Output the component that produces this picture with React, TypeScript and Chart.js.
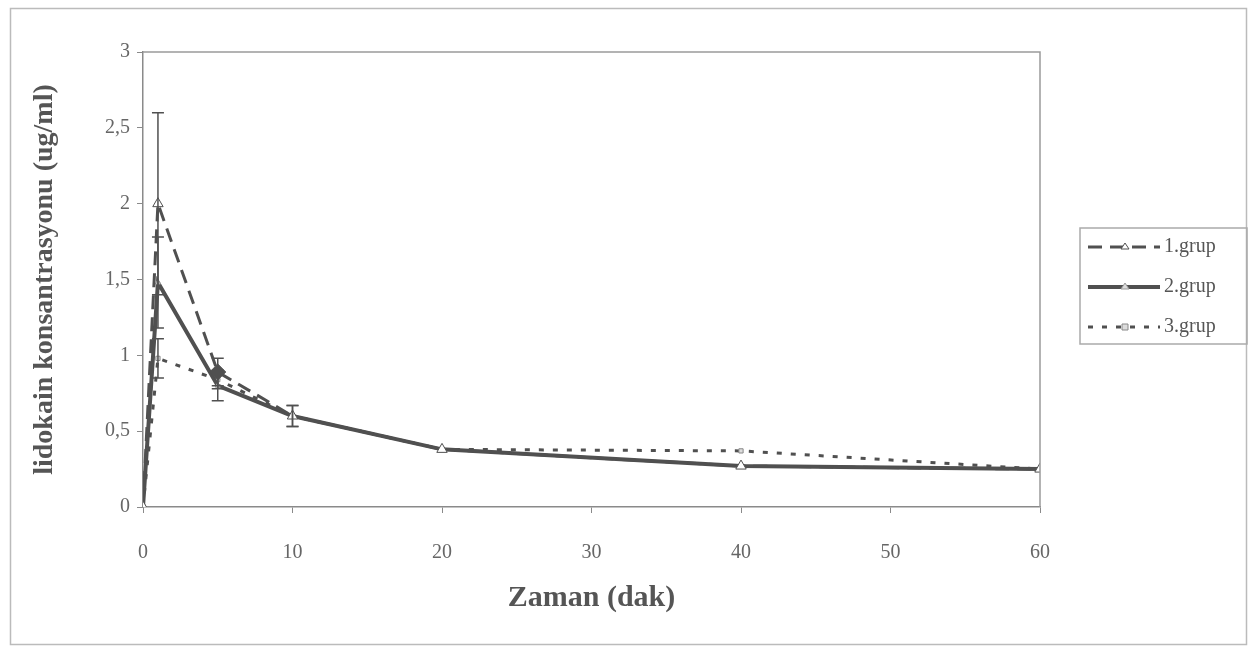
import React, { useEffect, useRef } from "react";
import { Chart, registerables } from "chart.js";

Chart.register(...registerables);

const times = [0, 1, 5, 10, 20, 40, 60];
const seriesNames = ["1.grup", "2.grup", "3.grup"];
const grup1 = [0, 2.0, 0.89, 0.6, 0.38, 0.27, 0.25];
const grup2 = [0, 1.48, 0.8, 0.6, 0.38, 0.27, 0.25];
const grup3 = [0, 0.98, 0.84, 0.6, 0.38, 0.37, 0.25];
const err1 = [0, 0.6, 0.09, 0.07, 0, 0, 0];
const err2 = [0, 0.3, 0.1, 0.07, 0, 0, 0];
const err3 = [0, 0.13, 0.06, 0, 0, 0, 0];
const yTicks = [0, 0.5, 1, 1.5, 2, 2.5, 3];
const xTitle = "Zaman (dak)";
const yTitle = "lidokain konsantrasyonu (ug/ml)";

const LINE = "#505050";
const SERIF = "'Liberation Serif', 'DejaVu Serif', serif";

const styles = [
  { dash: [14, 8], width: 3, pointStyle: "triangle", radius: 6, fill: "#ffffff", stroke: LINE },
  { dash: [], width: 4, pointStyle: "triangle", radius: 3, fill: "#dddddd", stroke: "#999999" },
  { dash: [5, 9], width: 3, pointStyle: "rect", radius: 3, fill: "#dddddd", stroke: "#888888" },
];

const errors = [err1, err2, err3];

const decorPlugin = {
  id: "decor",
  beforeDraw(chart: any) {
    const ctx = chart.ctx;
    ctx.save();
    ctx.fillStyle = "#ffffff";
    ctx.fillRect(0, 0, chart.width, chart.height);
    ctx.strokeStyle = "#bbbbbb";
    ctx.lineWidth = 1.5;
    ctx.strokeRect(10.5, 8.5, 1236, 636);
    ctx.restore();
  },
  afterDatasetsDraw(chart: any) {
    const ctx = chart.ctx;
    const xs = chart.scales.x;
    const ys = chart.scales.y;
    ctx.save();
    errors.forEach((errs, di) => {
      const vals = chart.data.datasets[di].data;
      ctx.strokeStyle = LINE;
      ctx.lineWidth = 1.5;
      ctx.setLineDash([]);
      errs.forEach((e, i) => {
        if (!e) return;
        const px = xs.getPixelForValue(times[i]);
        const v = vals[i].y;
        const top = ys.getPixelForValue(v + e);
        const bot = ys.getPixelForValue(v - e);
        ctx.beginPath();
        ctx.moveTo(px, top);
        ctx.lineTo(px, bot);
        ctx.moveTo(px - 6, top);
        ctx.lineTo(px + 6, top);
        ctx.moveTo(px - 6, bot);
        ctx.lineTo(px + 6, bot);
        ctx.stroke();
      });
    });
    ctx.restore();
  },
  afterDraw(chart: any) {
    const ctx = chart.ctx;
    const a = chart.chartArea;
    ctx.save();
    ctx.strokeStyle = "#9a9a9a";
    ctx.lineWidth = 1.5;
    ctx.beginPath();
    ctx.moveTo(a.left, a.top);
    ctx.lineTo(a.right, a.top);
    ctx.lineTo(a.right, a.bottom);
    ctx.stroke();

    // legend
    const lx = 1080, ly = 228, lw = 167, lh = 116;
    ctx.strokeStyle = "#aaaaaa";
    ctx.lineWidth = 1.5;
    ctx.strokeRect(lx, ly, lw, lh);
    seriesNames.forEach((name, i) => {
      const st = styles[i];
      const y = ly + 19 + i * 40;
      ctx.strokeStyle = LINE;
      ctx.lineWidth = st.width;
      ctx.setLineDash(st.dash);
      ctx.beginPath();
      ctx.moveTo(lx + 8, y);
      ctx.lineTo(lx + 80, y);
      ctx.stroke();
      ctx.setLineDash([]);
      ctx.fillStyle = st.fill;
      ctx.strokeStyle = st.stroke;
      ctx.lineWidth = 1;
      const mx = lx + 45;
      const r = 3;
      ctx.beginPath();
      if (st.pointStyle === "rect") {
        ctx.rect(mx - r, y - r, 2 * r, 2 * r);
      } else {
        ctx.moveTo(mx, y - r - 1);
        ctx.lineTo(mx + r + 1, y + r - 1);
        ctx.lineTo(mx - r - 1, y + r - 1);
        ctx.closePath();
      }
      ctx.fill();
      ctx.stroke();
      ctx.fillStyle = "#555555";
      ctx.font = `20px ${SERIF}`;
      ctx.textBaseline = "middle";
      ctx.fillText(name, lx + 84, y);
    });
    ctx.restore();
  },
};

export default function App() {
  const ref = useRef<HTMLCanvasElement>(null);
  useEffect(() => {
    if (!ref.current) return;
    const seriesVals = [grup1, grup2, grup3];
    const chart = new Chart(ref.current, {
      type: "line",
      data: {
        datasets: seriesVals.map((vals, i) => ({
          label: seriesNames[i],
          data: vals.map((v, j) => ({ x: times[j], y: v })),
          borderColor: LINE,
          borderWidth: styles[i].width,
          borderDash: styles[i].dash,
          pointStyle:
            i === 0
              ? times.map((t) => (t === 5 ? "rectRot" : "triangle"))
              : (styles[i].pointStyle as any),
          pointRadius: i === 0 ? times.map((t) => (t === 5 ? 8 : 6)) : styles[i].radius,
          pointBackgroundColor:
            i === 0 ? times.map((t) => (t === 5 ? LINE : "#ffffff")) : styles[i].fill,
          pointBorderColor: styles[i].stroke,
          pointBorderWidth: 1,
          fill: false,
          tension: 0,
        })),
      },
      options: {
        animation: false,
        responsive: false,
        events: [],
        layout: { padding: { left: 0, right: 214, top: 52, bottom: 0 } },
        plugins: { legend: { display: false }, tooltip: { enabled: false } },
        scales: {
          x: {
            type: "linear",
            min: 0,
            max: 60,
            afterFit(scale: any) {
              scale.height = 142;
            },
            border: { color: "#8a8a8a", width: 1.5 },
            grid: { drawOnChartArea: false, drawTicks: true, tickLength: 6, color: "#8a8a8a" },
            ticks: {
              stepSize: 10,
              padding: 28,
              color: "#666666",
              font: { family: SERIF, size: 20 },
            },
            title: {
              display: true,
              text: xTitle,
              color: "#555555",
              font: { family: SERIF, size: 30, weight: "bold" },
              padding: { top: 0, bottom: 33 },
            },
          },
          y: {
            type: "linear",
            min: 0,
            max: 3,
            afterFit(scale: any) {
              scale.width = 143;
            },
            afterBuildTicks(scale: any) {
              scale.ticks = yTicks.map((v) => ({ value: v }));
            },
            border: { color: "#8a8a8a", width: 1.5 },
            grid: { drawOnChartArea: false, drawTicks: true, tickLength: 6, color: "#8a8a8a" },
            ticks: {
              padding: 7,
              color: "#666666",
              font: { family: SERIF, size: 20 },
              callback: (v: any) => String(v).replace(".", ","),
            },
            title: {
              display: true,
              text: yTitle,
              color: "#555555",
              font: { family: SERIF, size: 28, weight: "bold" },
              padding: { top: 28, bottom: 0 },
            },
          },
        },
      },
      plugins: [decorPlugin],
    });
    return () => chart.destroy();
  }, []);
  return (
    <div style={{ position: "fixed", left: 0, top: 0, width: 1254, height: 649 }}>
      <canvas ref={ref} width={1254} height={649} style={{ width: 1254, height: 649 }} />
    </div>
  );
}
